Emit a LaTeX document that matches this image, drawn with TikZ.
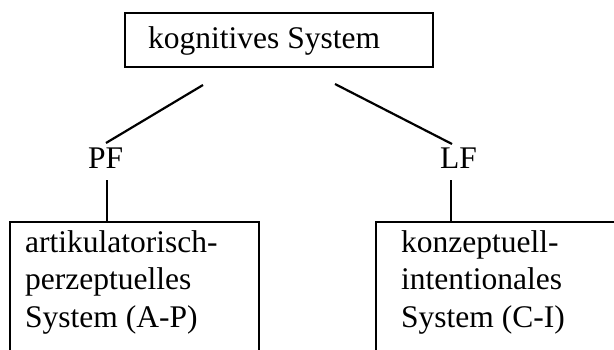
\documentclass[tikz,border=0pt]{standalone}
\usepackage{fontspec}
\setmainfont{Liberation Serif}
\begin{document}
\begin{tikzpicture}[x=1pt,y=1pt,
  lbl/.style={anchor=base west,inner sep=0pt,font=\fontsize{31.5}{37.5}\selectfont},
  boxtext/.style={anchor=base west,inner sep=0pt,align=left,font=\fontsize{31.5}{37.5}\selectfont},
  frame/.style={draw,line width=2.2pt},
  conn/.style={line width=2.2pt}]
\useasboundingbox (0,0) rectangle (614,349);
\clip (0,0) rectangle (614,349);
% top box
\draw[frame] (125,336) rectangle (433,282);
\node[lbl] (kog) at (148,301) {kognitives System};
% labels
\node[lbl] (pf) at (88,181) {PF};
\node[lbl] (lf) at (440,181) {LF};
% lower boxes (cut off by the picture's edge)
\draw[frame] (10,-20) |- (259,127) -- (259,-20);
\draw[frame] (376,-20) |- (640,127);
\node[boxtext] (ap) at (25,22) {artikulatorisch-\\perzeptuelles\\System (A-P)};
\node[boxtext] (ci) at (401,22) {konzeptuell-\\intentionales\\System (C-I)};
% connector end points
\coordinate (kogL) at (203,264);
\coordinate (pfT) at (106,206);
\coordinate (kogR) at (335,265);
\coordinate (lfT) at (452,205);
\coordinate (pfB) at (107,169);
\coordinate (apT) at (107,127);
\coordinate (lfB) at (451,169);
\coordinate (ciT) at (451,127);
\draw[conn] (kogL) -- (pfT);
\draw[conn] (kogR) -- (lfT);
\draw[conn] (pfB) -- (apT);
\draw[conn] (lfB) -- (ciT);
\end{tikzpicture}
\end{document}
